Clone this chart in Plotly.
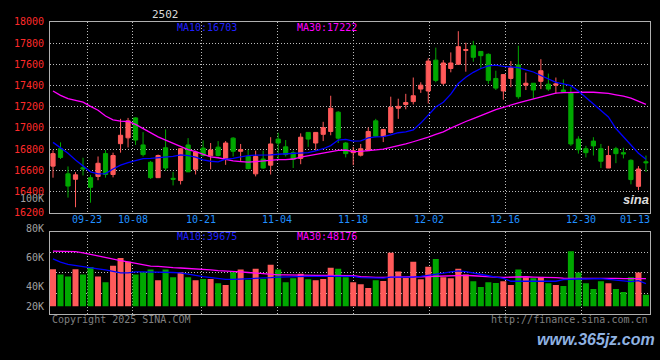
import plotly.graph_objects as go

W, H = 660, 360

dates = ["09-12","09-13","09-18","09-19","09-20","09-23","09-24","09-25","09-26","09-27","09-30",
         "10-08","10-09","10-10","10-11","10-14","10-15","10-16","10-17","10-18","10-21","10-22","10-23","10-24","10-25","10-28","10-29","10-30","10-31",
         "11-01","11-04","11-05","11-06","11-07","11-08","11-11","11-12","11-13","11-14","11-15","11-18","11-19","11-20","11-21","11-22","11-25","11-26","11-27","11-28","11-29",
         "12-02","12-03","12-04","12-05","12-06","12-09","12-10","12-11","12-12","12-13","12-16","12-17","12-18","12-19","12-20","12-23","12-24","12-25","12-26","12-27","12-30","12-31",
         "01-02","01-03","01-06","01-07","01-08","01-09","01-10","01-13"]

opens = [16639,16803,16566,16515,16624,16530,16542,16757,16560,16851,16906,17094,16839,16675,16530,16812,16524,16503,16839,16609,
         16809,16736,16818,16706,16903,16779,16730,16566,16706,16648,16894,16821,16766,16712,16957,16857,16939,16966,17148,16857,
         16766,16742,16785,17066,16921,16957,17185,17221,17248,17366,17348,17639,17421,17560,17600,17730,17775,17721,17694,17466,
         17348,17466,17594,17403,17421,17439,17412,17403,17357,17327,16894,16803,16875,16803,16621,16803,16766,16694,16448,16680]
highs = [16788,16863,16636,16582,16718,16557,16730,16791,16766,17085,17094,17100,16960,16688,16748,16985,16585,16809,16903,16785,
         16882,16857,16875,16875,16912,16848,16794,16785,16785,16912,16954,16885,16785,16948,16957,16960,17057,17303,17157,16866,
         16821,16848,17003,17085,16990,17294,17275,17321,17475,17430,17657,17757,17639,17712,17912,17803,17821,17721,17703,17539,
         17506,17630,17775,17521,17421,17648,17512,17475,17457,17385,16921,16830,16912,16848,16830,16821,16812,16703,16639,16739]
lows = [16530,16706,16342,16251,16551,16294,16506,16530,16533,16766,16815,16839,16730,16518,16530,16597,16457,16466,16585,16560,
        16730,16609,16730,16651,16730,16688,16609,16542,16615,16560,16700,16730,16621,16657,16821,16785,16875,16930,16857,16721,
        16648,16730,16785,16912,16866,16948,17085,17175,17221,17330,17230,17430,17403,17524,17597,17530,17624,17566,17415,17357,
        17266,17384,17275,17357,17275,17366,17348,17321,17335,16830,16757,16721,16739,16621,16621,16667,16712,16467,16412,16585]
closes = [16757,16721,16451,16557,16612,16439,16666,16560,16739,16930,17066,16885,16748,16530,16739,16621,16515,16803,16585,16772,
          16739,16791,16739,16857,16779,16794,16615,16730,16621,16848,16857,16748,16703,16912,16894,16957,17003,17185,16903,16757,
          16785,16803,16966,16921,16985,17194,17203,17239,17303,17403,17630,17448,17612,17612,17766,17739,17666,17681,17448,17375,
          17503,17566,17294,17421,17357,17539,17366,17415,17339,16848,16794,16766,16830,16685,16739,16757,16754,16512,16612,16671]

ma10 = [16863,16815,16760,16697,16642,16585,16566,16569,16612,16648,16672,16691,16709,16712,16718,16730,16730,16745,16739,16724,
        16697,16685,16679,16706,16712,16727,16739,16742,16742,16745,16751,16754,16757,16760,16766,16782,16803,16833,16885,16891,
        16875,16878,16906,16915,16918,16933,16954,16963,16981,17045,17121,17197,17242,17318,17418,17478,17524,17560,17584,17591,
        17581,17575,17569,17548,17527,17494,17463,17430,17415,17398,17348,17289,17230,17171,17103,16994,16916,16848,16760,16703]
ma30 = [17348,17306,17275,17260,17242,17203,17166,17112,17075,17063,17060,17033,16991,16954,16915,16885,16857,16827,16794,16775,
        16748,16727,16718,16703,16688,16682,16676,16682,16688,16697,16700,16700,16706,16724,16736,16748,16763,16775,16788,16791,
        16775,16779,16785,16791,16800,16815,16830,16848,16869,16888,16912,16939,16963,16997,17030,17060,17088,17118,17148,17172,
        17194,17218,17236,17254,17272,17288,17303,17327,17333,17336,17336,17336,17336,17334,17325,17312,17300,17280,17253,17222]

volumes = [64600,55600,52200,64600,55600,68600,52200,42000,70900,84500,77700,55600,59500,64100,45400,64100,50500,59500,50500,45400,
           47600,47600,40300,36900,59500,64100,46500,65800,47600,72600,64100,42000,48800,56700,47100,45400,47600,67500,65800,50500,
           42000,38600,31800,45400,44200,93600,60700,49300,77700,47100,69200,82800,50500,48800,65800,55600,43700,33500,42000,40800,
           43700,36900,64100,50500,48800,50500,40300,36900,35200,96400,59000,40300,30100,43700,40300,30100,24900,50500,59000,19800]
vol_ma10 = [82800,77100,73100,70900,69200,67500,65200,63500,60700,58400,58400,60100,60100,60100,60100,59500,59000,58400,56700,53900,
            51600,49900,48800,47100,47100,47600,47600,48200,48800,49900,51000,51600,51600,52200,52200,52200,52200,52200,52200,52200,
            52200,49900,49300,48800,49300,51000,51000,50500,51000,52200,53900,55000,57800,60100,61800,60700,57800,55000,53300,51000,
            48800,43700,43700,44200,43700,43100,43100,43700,46500,47600,47600,47600,48200,48200,47100,45400,44200,43100,44800,39675]
vol_ma30 = [96400,96400,96400,95800,93600,90700,87900,85100,82200,79900,77700,74900,72600,70300,69700,68000,67500,66900,66300,65200,
            64600,63500,62400,61200,60100,60100,59000,57800,56700,56100,55000,55000,54400,54400,54400,53900,53900,53900,53300,53300,
            53300,51600,50500,50500,50500,51000,51000,51600,51600,51600,52200,52200,52700,53300,53900,53900,53300,52200,51600,51000,
            50500,51000,51600,51600,51000,51000,50500,49900,49300,49300,49900,49900,49300,49300,49300,48800,48200,48200,48200,48176]

grid_dates = ["09-23","10-08","10-21","11-04","11-18","12-02","12-16","12-30","01-13"]
price_ticks = [16200,16400,16600,16800,17000,17200,17400,17600,17800,18000]
vol_labels = ["100K","80K","60K","40K","20K"]

RED = "#ff5a5a"
GREEN = "#00a800"
GRID = "#bdbdbd"
FRAME = "#b0b0b0"
FONT = "DejaVu Sans Mono"

idx = list(range(len(dates)))
bar_colors = [RED if c >= o else GREEN for o, c in zip(opens, closes)]

def px(x):
    return x / W

def py(y):
    return 1 - y / H

x_lo, x_hi = -0.4, len(dates) - 1 + 0.54
grid_pos = [dates.index(d) * 1.0125 - 0.49 for d in grid_dates]
vol_range = [-13000, 129800]
vol_grid = [vol_range[0] + (vol_range[1] - vol_range[0]) * k / 4 for k in (1, 2, 3)]

fig = go.Figure()
fig.add_trace(go.Candlestick(
    x=idx, open=opens, high=highs, low=lows, close=closes,
    increasing=dict(line=dict(color=RED, width=1), fillcolor=RED),
    decreasing=dict(line=dict(color=GREEN, width=1), fillcolor=GREEN),
    whiskerwidth=0, xaxis="x", yaxis="y", hoverinfo="skip"))
fig.add_trace(go.Scatter(x=idx, y=ma30, mode="lines", line=dict(color="#ff00ff", width=1.3),
                         xaxis="x", yaxis="y", hoverinfo="skip"))
fig.add_trace(go.Scatter(x=idx, y=ma10, mode="lines", line=dict(color="#0000ff", width=1.3),
                         xaxis="x", yaxis="y", hoverinfo="skip"))
fig.add_trace(go.Bar(x=idx, y=volumes, marker=dict(color=bar_colors, line=dict(width=0)),
                     xaxis="x2", yaxis="y2", hoverinfo="skip"))
fig.add_trace(go.Scatter(x=idx, y=vol_ma30, mode="lines", line=dict(color="#ff00ff", width=1.3),
                         xaxis="x2", yaxis="y2", hoverinfo="skip"))
fig.add_trace(go.Scatter(x=idx, y=vol_ma10, mode="lines", line=dict(color="#0000ff", width=1.3),
                         xaxis="x2", yaxis="y2", hoverinfo="skip"))

common_x = dict(range=[x_lo, x_hi], domain=[px(50), px(650)], tickmode="array", tickvals=grid_pos,
                showticklabels=False, ticks="", showgrid=True, gridcolor=GRID, griddash="1px,2px",
                gridwidth=1, zeroline=False, showline=True, mirror=True, linecolor=FRAME, linewidth=1)
fig.update_layout(
    width=W, height=H, margin=dict(l=0, r=0, t=0, b=0),
    paper_bgcolor="black", plot_bgcolor="black", showlegend=False,
    boxgap=0.2, bargap=0.2,
    xaxis=dict(anchor="y", rangeslider=dict(visible=False), **common_x),
    xaxis2=dict(anchor="y2", matches="x", **common_x),
    yaxis=dict(domain=[py(214.2), py(17.4)], range=[price_ticks[0], price_ticks[-1]],
               tickmode="array", tickvals=price_ticks, ticktext=[str(v) for v in price_ticks],
               ticks="", ticklabelstandoff=3,
               tickfont=dict(family=FONT, size=10, color="#ff2a2a"),
               showgrid=True, gridcolor=GRID, griddash="1px,2px", zeroline=False,
               showline=True, mirror=True, linecolor=FRAME, linewidth=1),
    yaxis2=dict(domain=[py(318.3), py(234.3)], range=vol_range, tickmode="array", tickvals=vol_grid,
                showticklabels=False, ticks="", showgrid=True, gridcolor=GRID, griddash="1px,2px",
                zeroline=False, showline=True, mirror=True, linecolor=FRAME, linewidth=1),
)

ann = []
def text(x, y, s, color, size=10, xanchor="left", family=FONT, **kw):
    ann.append(dict(x=px(x), y=py(y), xref="paper", yref="paper", text=s, showarrow=False,
                    xanchor=xanchor, yanchor="middle", font=dict(family=family, size=size, color=color), **kw))

text(165, 10, "2502", "#d8d8d8", size=11, xanchor="center")
text(175, 23.5, "MA10:%d" % ma10[-1], "#2020ff")
text(295, 23.5, "MA30:%d" % ma30[-1], "#ff00ff")
text(175, 238.5, "MA10:%d" % vol_ma10[-1], "#2020ff")
text(295, 238.5, "MA30:%d" % vol_ma30[-1], "#ff00ff")
for lab, y in zip(vol_labels, [200, 230.7, 260.7, 290.7, 310.5]):
    text(46, y, lab, "#a0a0a0", xanchor="right")
for d, gp in zip(grid_dates, grid_pos):
    ann.append(dict(x=min(gp, 77.5), y=py(221), xref="x", yref="paper", text=d, showarrow=False,
                    xanchor="center", yanchor="middle", font=dict(family=FONT, size=10, color="#2090ff")))
text(50, 324, "Copyright 2025 SINA.COM", "#808080")
text(650, 324, "http://finance.sina.com.cn", "#808080", xanchor="right")
text(636, 201, "<b><i>sina</i></b>", "#dcdcdc", size=13, xanchor="center", family="Liberation Sans")
text(596, 345, "<b><i>www.365jz.com</i></b>", "#8fb2e2", size=16, xanchor="center", family="Liberation Sans")
fig.update_layout(annotations=ann)

fig.write_html("out.html", config={"displayModeBar": False},
               post_script="document.body.style.margin='0';document.body.style.padding='0';")
